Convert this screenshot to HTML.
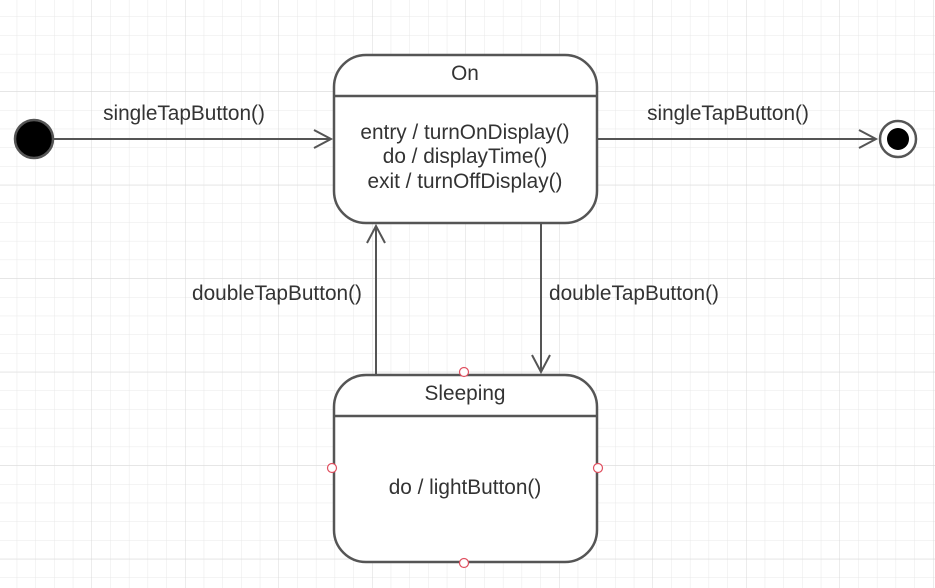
<!DOCTYPE html>
<html><head><style>body{margin:0;background:#fff}svg{display:block}text{font-family:"Liberation Sans",sans-serif;fill:#333;font-size:20.8px}</style></head><body>
<svg width="935" height="588" xmlns="http://www.w3.org/2000/svg">
<defs>
<pattern id="g" width="18.7" height="18.7" patternUnits="userSpaceOnUse" x="-1.5" y="-1.7"><path d="M18.7 0V18.7M0 18.7H18.7" stroke="#e8e8e8" stroke-width="1" fill="none"/></pattern>
<pattern id="G" width="93.5" height="93.5" patternUnits="userSpaceOnUse" x="-1.5" y="-1.7"><path d="M93.5 0V93.5M0 93.5H93.5" stroke="#d8d8d8" stroke-width="1" fill="none"/></pattern>
</defs>
<rect width="935" height="588" fill="url(#g)"/>
<rect width="935" height="588" fill="url(#G)"/>
<g stroke="#555" stroke-width="2" fill="none">
<line x1="53" y1="139" x2="331" y2="139"/><path d="M314 130L331 139L314 148"/>
<line x1="597" y1="139" x2="876" y2="139"/><path d="M859 130L876 139L859 148"/>
<line x1="376" y1="375" x2="376" y2="226"/><path d="M367 243L376 226L385 243"/>
<line x1="541" y1="223" x2="541" y2="372"/><path d="M532 355L541 372L550 355"/>
</g>
<rect x="334" y="55" width="263" height="168" rx="32" fill="#fff" stroke="#555" stroke-width="2.5"/>
<line x1="334" y1="96" x2="597" y2="96" stroke="#555" stroke-width="2.5"/>
<rect x="334" y="375" width="263" height="187" rx="32" fill="#fff" stroke="#555" stroke-width="2.5"/>
<line x1="334" y1="416" x2="597" y2="416" stroke="#555" stroke-width="2.5"/>
<circle cx="34" cy="139" r="19" fill="#000" stroke="#555" stroke-width="2.5"/>
<circle cx="898" cy="139" r="18" fill="#fff" stroke="#555" stroke-width="2.5"/>
<circle cx="898" cy="139" r="11" fill="#000"/>
<g fill="#fff" stroke="#e05060" stroke-width="1.2">
<circle cx="464" cy="372" r="4.5"/><circle cx="464" cy="563" r="4.5"/><circle cx="332" cy="468" r="4.5"/><circle cx="598" cy="468" r="4.5"/>
</g>
<text x="184" y="120" text-anchor="middle">singleTapButton()</text>
<text x="728" y="120" text-anchor="middle">singleTapButton()</text>
<text x="277" y="300" text-anchor="middle">doubleTapButton()</text>
<text x="634" y="300" text-anchor="middle">doubleTapButton()</text>
<text x="465" y="80" text-anchor="middle">On</text>
<text x="465" y="139" text-anchor="middle">entry / turnOnDisplay()</text>
<text x="465" y="163" text-anchor="middle">do / displayTime()</text>
<text x="465" y="188" text-anchor="middle">exit / turnOffDisplay()</text>
<text x="465" y="400" text-anchor="middle">Sleeping</text>
<text x="465" y="494" text-anchor="middle">do / lightButton()</text>
</svg>
</body></html>
